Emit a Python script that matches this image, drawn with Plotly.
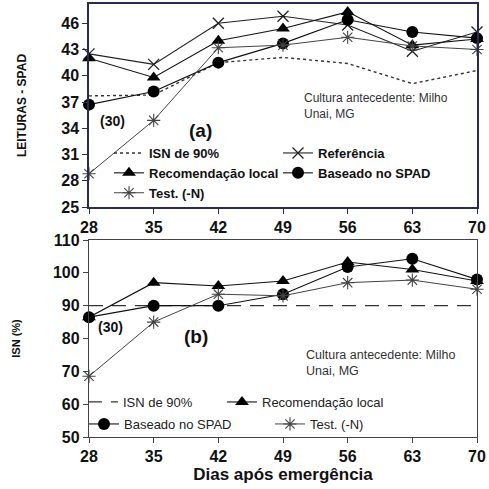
import plotly.graph_objects as go

dias = [28, 35, 42, 49, 56, 63, 70]

# Panel (a) - Leituras SPAD
a_isn90 = [37.7, 37.8, 41.5, 42.1, 41.4, 39.1, 40.6]
a_ref = [42.5, 41.3, 46.0, 46.8, 45.8, 42.8, 45.0]
a_rec = [42.0, 39.8, 44.0, 45.4, 47.3, 43.5, 44.2]
a_spad = [36.7, 38.2, 41.5, 43.7, 46.4, 45.0, 44.3]
a_test = [28.8, 34.9, 43.2, 43.5, 44.4, 43.4, 43.0]

# Panel (b) - ISN (%)
b_isn90 = [90, 90, 90, 90, 90, 90, 90]
b_rec = [86.5, 97.0, 96.0, 97.5, 103.3, 101.0, 97.5]
b_spad = [86.5, 90.0, 90.0, 93.5, 101.8, 104.3, 98.0]
b_test = [68.5, 85.0, 93.5, 93.0, 97.0, 97.8, 95.0]

a_yticks = [25, 28, 31, 34, 37, 40, 43, 46]
b_yticks = [50, 60, 70, 80, 90, 100, 110]

W = H = 489
FONT = "Liberation Sans, Arial, sans-serif"

def px(x):
    return x / W

def py(y):
    return 1 - y / H

fig = go.Figure()

# --- top panel traces ---
fig.add_trace(go.Scatter(x=dias, y=a_isn90, name="ISN de 90%", mode="lines",
                         line=dict(color="#333", width=1.4, dash="3px,3px"),
                         xaxis="x", yaxis="y", legend="legend"))
fig.add_trace(go.Scatter(x=dias, y=a_ref, name="Referência", mode="lines+markers",
                         line=dict(color="#222", width=1.1),
                         marker=dict(symbol="x-thin-open", size=11, line=dict(width=1.3, color="#333")),
                         xaxis="x", yaxis="y", legend="legend"))
fig.add_trace(go.Scatter(x=dias, y=a_rec, name="Recomendação local", mode="lines+markers",
                         line=dict(color="#111", width=1.1),
                         marker=dict(symbol="triangle-up", size=12, color="#000"),
                         xaxis="x", yaxis="y", legend="legend"))
fig.add_trace(go.Scatter(x=dias, y=a_spad, name="Baseado no SPAD", mode="lines+markers",
                         line=dict(color="#111", width=1.1),
                         marker=dict(symbol="circle", size=12, color="#000"),
                         xaxis="x", yaxis="y", legend="legend"))
fig.add_trace(go.Scatter(x=dias, y=a_test, name="Test. (-N)", mode="lines+markers",
                         line=dict(color="#444", width=1),
                         marker=dict(symbol="asterisk-open", size=11, line=dict(width=1.1, color="#333")),
                         xaxis="x", yaxis="y", legend="legend"))

# --- bottom panel traces ---
fig.add_trace(go.Scatter(x=dias, y=b_isn90, name="ISN de 90%", mode="lines",
                         line=dict(color="#333", width=1.3, dash="14px,9px"),
                         xaxis="x2", yaxis="y2", legend="legend2"))
fig.add_trace(go.Scatter(x=dias, y=b_rec, name="Recomendação local", mode="lines+markers",
                         line=dict(color="#111", width=1.1),
                         marker=dict(symbol="triangle-up", size=12, color="#000"),
                         xaxis="x2", yaxis="y2", legend="legend3"))
fig.add_trace(go.Scatter(x=dias, y=b_spad, name="Baseado no SPAD", mode="lines+markers",
                         line=dict(color="#111", width=1.1),
                         marker=dict(symbol="circle", size=12, color="#000"),
                         xaxis="x2", yaxis="y2", legend="legend4"))
fig.add_trace(go.Scatter(x=dias, y=b_test, name="Test. (-N)", mode="lines+markers",
                         line=dict(color="#444", width=1),
                         marker=dict(symbol="asterisk-open", size=11, line=dict(width=1.1, color="#333")),
                         xaxis="x2", yaxis="y2", legend="legend5"))

for tr in fig.data:
    tr.cliponaxis = False

tickfont = dict(family=FONT, size=16, color="#111", weight="bold")

xcommon = dict(range=[28, 70], tickvals=dias, ticks="outside", ticklen=5,
               showgrid=False, zeroline=False, showline=True, mirror=True,
               tickfont=tickfont, automargin=False)

leg_common = dict(xanchor="left", yanchor="top", orientation="h",
                  itemwidth=30, tracegroupgap=0, bgcolor="rgba(0,0,0,0)")
leg_b_font = dict(family=FONT, size=13, color="#222")

fig.update_layout(
    width=W, height=H,
    margin=dict(l=0, r=0, t=0, b=0, autoexpand=False),
    paper_bgcolor="white", plot_bgcolor="white",
    showlegend=True,
    xaxis=dict(domain=[px(89), px(477)], anchor="y", linecolor="#2a2a55", linewidth=1.5,
               tickcolor="#2a2a55", **xcommon),
    yaxis=dict(domain=[py(207), py(4)], anchor="x", range=[25, 48.2], tickvals=a_yticks,
               ticks="outside", ticklen=5, showgrid=False, zeroline=False, showline=True,
               mirror=True, linecolor="#2a2a55", linewidth=1.5, tickcolor="#2a2a55",
               tickfont=tickfont, automargin=False,
               title=dict(text="LEITURAS - SPAD", standoff=32,
                          font=dict(family=FONT, size=12, color="#111", weight="bold"))),
    xaxis2=dict(domain=[px(89), px(477)], anchor="y2", linecolor="#444", linewidth=1.3,
                tickcolor="#444",
                title=dict(text="Dias após emergência", standoff=1,
                           font=dict(family=FONT, size=17, color="#111", weight="bold")),
                **xcommon),
    yaxis2=dict(domain=[py(437), py(240)], anchor="x2", range=[50, 110], tickvals=b_yticks,
                ticks="outside", ticklen=5, showgrid=False, zeroline=False, showline=True,
                mirror=True, linecolor="#444", linewidth=1.3, tickcolor="#444",
                tickfont=tickfont, automargin=False,
                title=dict(text="ISN (%)", standoff=30,
                           font=dict(family=FONT, size=11, color="#111", weight="bold"))),
    legend=dict(x=px(109), y=py(138), entrywidth=124, entrywidthmode="pixels",
                font=dict(family=FONT, size=13, color="#111", weight="bold"), **leg_common),
    legend2=dict(x=px(83), y=py(387), font=leg_b_font, **leg_common),
    legend3=dict(x=px(222), y=py(387), font=leg_b_font, **leg_common),
    legend4=dict(x=px(84), y=py(409), font=leg_b_font, **leg_common),
    legend5=dict(x=px(270), y=py(409), font=leg_b_font, **leg_common),
)

ann_bold = dict(family=FONT, color="#111", weight="bold")

annotations = [
    dict(x=px(98), y=py(121), text="(30)", font=dict(size=14, **ann_bold)),
    dict(x=px(187), y=py(130), text="(a)", font=dict(size=19, **ann_bold)),
    dict(x=px(302), y=py(106), text="Cultura antecedente: Milho<br>Unai, MG",
         font=dict(family=FONT, size=12, color="#333"), align="left"),
    dict(x=px(96), y=py(327), text="(30)", font=dict(size=14, **ann_bold)),
    dict(x=px(182), y=py(336), text="(b)", font=dict(size=19, **ann_bold)),
    dict(x=px(304), y=py(363), text="Cultura antecedente: Milho<br>Unai, MG",
         font=dict(family=FONT, size=12.5, color="#333"), align="left"),
]
for a in annotations:
    a.update(xref="paper", yref="paper", showarrow=False, xanchor="left", yanchor="middle")
fig.update_layout(annotations=annotations)

fig.write_html("out.html", config={"displayModeBar": False},
               post_script="document.body.style.margin='0';document.body.style.padding='0';")
